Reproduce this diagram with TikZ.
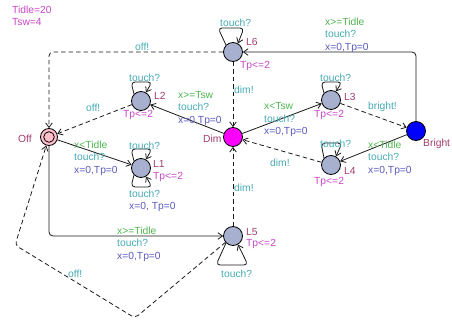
\documentclass[tikz,border=0pt]{standalone}
\usepackage{fontspec}
\setmainfont{Liberation Sans}
\usetikzlibrary{arrows.meta}
\definecolor{locfill}{RGB}{168,176,208}
\definecolor{offpink}{RGB}{255,192,203}
\definecolor{dimfill}{RGB}{255,0,255}
\definecolor{brightfill}{RGB}{0,0,255}
\definecolor{namec}{RGB}{160,60,110}
\definecolor{invc}{RGB}{200,70,200}
\definecolor{guardc}{RGB}{80,180,80}
\definecolor{syncc}{RGB}{70,170,180}
\definecolor{updc}{RGB}{90,90,190}
\tikzstyle{loc}=[
      circle,
      draw = black,
      line width = 0.8pt,
      fill = locfill,
      minimum size = 19pt,
      inner sep = 0pt
      ]
\tikzstyle{lbl}=[
      anchor = west,
      inner sep = 0pt,
      align = left,
      font = \fontsize{10.3}{12.5}\selectfont
      ]
\tikzstyle{trans}=[
      draw = black!90,
      line width = 0.8pt,
      -{Straight Barb[length=4.5pt,width=6.5pt]},
      rounded corners = 4pt
      ]
\tikzstyle{dtrans}=[
      trans,
      dash pattern = on 4.5pt off 3pt
      ]

\begin{document}
\begin{tikzpicture}[x=1pt,y=-1pt]
\useasboundingbox (0,0) rectangle (452,324);

\node [lbl, text=invc] (decl) at (12,16) {Tidle=20\\Tsw=4};

\node [loc, fill=offpink, minimum size=17pt] (Off) at (49,137) {};
\node [circle, draw=black, line width=0.8pt, inner sep=0pt, minimum size=10.6pt] (Offin) at (Off) {};
\node [loc] (L2) at (141,101) {};
\node [loc] (L1) at (141,168) {};
\node [loc, fill=dimfill] (Dim) at (233,137) {};
\node [loc] (L6) at (233,52) {};
\node [loc] (L5) at (233,236) {};
\node [loc] (L3) at (331,100) {};
\node [loc] (L4) at (331,165) {};
\node [loc, fill=brightfill] (Bright) at (416,131) {};

\node [lbl, text=namec] (nOff) at (18,139) {Off};
\node [lbl, text=namec] (nDim) at (203,139) {Dim};
\node [lbl, text=namec] (nBright) at (423,144) {Bright};
\node [lbl, text=namec] (nL1) at (153,164) {L1};
\node [lbl, text=namec] (nL2) at (154,96) {L2};
\node [lbl, text=namec] (nL3) at (344,97) {L3};
\node [lbl, text=namec] (nL4) at (344,171) {L4};
\node [lbl, text=namec] (nL5) at (246,232) {L5};
\node [lbl, text=namec] (nL6) at (246,42) {L6};

\node [lbl, text=invc] (iL1) at (153,177) {Tp<=2};
\node [lbl, text=invc] (iL2) at (123,115) {Tp<=2};
\node [lbl, text=invc] (iL3) at (314,115) {Tp<=2};
\node [lbl, text=invc] (iL4) at (314,182) {Tp<=2};
\node [lbl, text=invc] (iL5) at (246,244) {Tp<=2};
\node [lbl, text=invc] (iL6) at (240,66) {Tp<=2};

\draw [trans] (Off) -- (L1);
\draw [dtrans] (L2) -- (Off);
\draw [trans] (Dim) -- (L2);
\draw [trans] (Dim) -- (L3);
\draw [dtrans] (L3) -- (Bright);
\draw [trans] (Bright) -- (L4);
\draw [dtrans] (L4) -- (Dim);
\draw [dtrans] (L6) -- (Dim);
\draw [dtrans] (L5) -- (Dim);
\draw [dtrans] (L6) -| (Off);
\draw [trans] (Off) |- (L5);
\draw [trans] (Bright) |- (L6);
\coordinate (o1) at (135,318);
\coordinate (o2) at (15,245);
\draw [dtrans] (L5) -- (o1) -- (o2) -- (Off);

\draw [trans] (L1.135) -- ++(-3,-12) -- ++(21,0) -- (L1.60);
\draw [trans] (L1.225) -- ++(-3,12) -- ++(21,0) -- (L1.300);
\draw [trans] (L2.135) -- ++(-3,-12) -- ++(21,0) -- (L2.60);
\draw [trans] (L3.135) -- ++(-3,-11) -- ++(21,0) -- (L3.60);
\draw [trans] (L4.135) -- ++(-3,-15) -- ++(21,0) -- (L4.60);
\draw [trans] (L6.135) -- ++(-8,-17) -- ++(26,0) -- (L6.60);
\draw [trans] (L5.225) -- ++(-10,22) -- ++(32,0) -- (L5.300);

\node [lbl, text=syncc] (sL6) at (220,23) {touch?};
\node [lbl, text=syncc] (sL2) at (129,78) {touch?};
\node [lbl, text=syncc] (sL1a) at (129,146) {touch?};
\node [lbl] (sL1b) at (129,201) {\textcolor{syncc}{touch?}\\\textcolor{updc}{x=0, Tp=0}};
\node [lbl, text=syncc] (sL3) at (320,78) {touch?};
\node [lbl, text=syncc] (sL4) at (320,144) {touch?};
\node [lbl, text=syncc] (sL5) at (221,274) {touch?};

\node [lbl, text=syncc] (offa) at (135,47) {off!};
\node [lbl, text=syncc] (offb) at (86,108) {off!};
\node [lbl, text=syncc] (offc) at (68,274) {off!};
\node [lbl, text=syncc] (dima) at (234,90) {dim!};
\node [lbl, text=syncc] (dimb) at (234,188) {dim!};
\node [lbl, text=syncc] (dimc) at (270,163) {dim!};
\node [lbl, text=syncc] (brt) at (368,107) {bright!};

\node [lbl] (tBL6) at (325,35) {\textcolor{guardc}{x>=Tidle}\\\textcolor{syncc}{touch?}\\\textcolor{updc}{x=0,Tp=0}};
\node [lbl] (tDL2) at (178,108.5) {\textcolor{guardc}{x>=Tsw}\\\textcolor{syncc}{touch?}\\\textcolor{updc}{x=0,Tp=0}};
\node [lbl] (tOL1) at (74,158) {\textcolor{guardc}{x<Tidle}\\\textcolor{syncc}{touch?}\\\textcolor{updc}{x=0,Tp=0}};
\node [lbl] (tDL3) at (264,120) {\textcolor{guardc}{x<Tsw}\\\textcolor{syncc}{touch?}\\\textcolor{updc}{x=0,Tp=0}};
\node [lbl] (tBL4) at (368,158) {\textcolor{guardc}{x<Tidle}\\\textcolor{syncc}{touch?}\\\textcolor{updc}{x=0,Tp=0}};
\node [lbl] (tOL5) at (117,244) {\textcolor{guardc}{x>=Tidle}\\\textcolor{syncc}{touch?}\\\textcolor{updc}{x=0,Tp=0}};
\end{tikzpicture}
\end{document}
